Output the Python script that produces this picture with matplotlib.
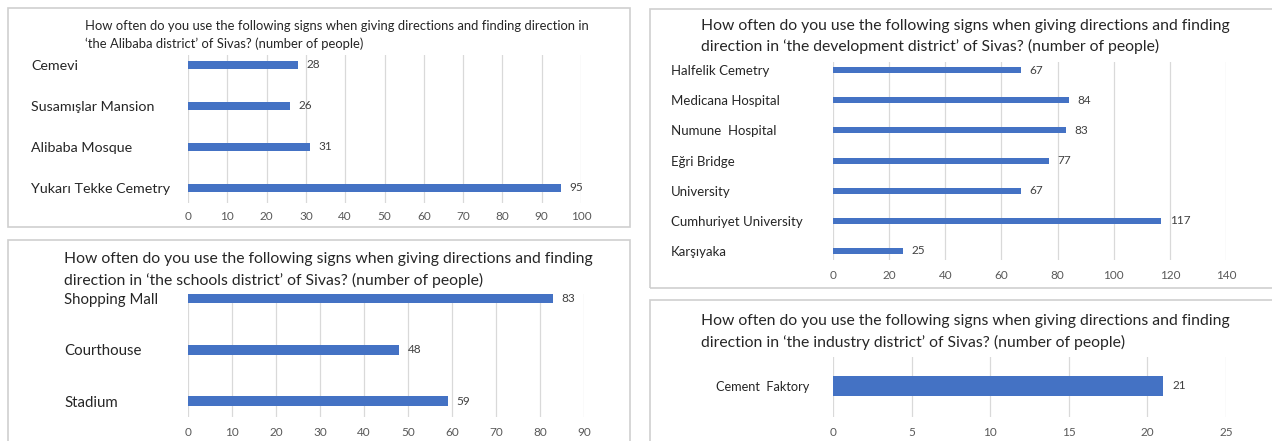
import matplotlib.pyplot as plt
from matplotlib.patches import Rectangle

plt.rcParams['font.family'] = ['Lato', 'DejaVu Sans']

W, H = 1272, 441

alibaba_places = ['Cemevi', 'Susamışlar Mansion', 'Alibaba Mosque', 'Yukarı Tekke Cemetry']
alibaba_counts = [28, 26, 31, 95]
alibaba_ticks = [0, 10, 20, 30, 40, 50, 60, 70, 80, 90, 100]
alibaba_title = ['How often do you use the following signs when giving directions and finding direction in',
                 '‘the Alibaba district’ of Sivas? (number of people)']

schools_places = ['Shopping Mall', 'Courthouse', 'Stadium']
schools_counts = [83, 48, 59]
schools_ticks = [0, 10, 20, 30, 40, 50, 60, 70, 80, 90]
schools_title = ['How often do you use the following signs when giving directions and finding',
                 'direction in ‘the schools district’ of Sivas? (number of people)']

development_places = ['Halfelik Cemetry', 'Medicana Hospital', 'Numune  Hospital', 'Eğri Bridge',
                      'University', 'Cumhuriyet University', 'Karşıyaka']
development_counts = [67, 84, 83, 77, 67, 117, 25]
development_ticks = [0, 20, 40, 60, 80, 100, 120, 140]
development_title = ['How often do you use the following signs when giving directions and finding',
                     'direction in ‘the development district’ of Sivas? (number of people)']

industry_places = ['Cement  Faktory']
industry_counts = [21]
industry_ticks = [0, 5, 10, 15, 20, 25]
industry_title = ['How often do you use the following signs when giving directions and finding',
                  'direction in ‘the industry district’ of Sivas? (number of people)']

BLUE = '#4472C4'

fig = plt.figure(figsize=(W / 100, H / 100), dpi=100)


def box(x0, y0, x1, y1):
    fig.patches.append(Rectangle((x0 / W, 1 - y1 / H), (x1 - x0) / W, (y1 - y0) / H,
                                 transform=fig.transFigure, fill=False, ec='#CFCFCF', lw=1.2))


def title(x, ys, lines, size):
    for y, line in zip(ys, lines):
        fig.text(x / W, 1 - y / H, line, ha='left', va='center', fontsize=size, color='#262626')


def panel(rect, places, counts, ticks, ylim, bar_h, label_pad, label_size, xpad, ha='left', val_off=6):
    x0, y0, x1, y1 = rect
    ax = fig.add_axes([x0 / W, 1 - y1 / H, (x1 - x0) / W, (y1 - y0) / H])
    pos = list(range(len(places)))
    ax.barh(pos, counts, height=bar_h, color=BLUE, zorder=3)
    for p, c in zip(pos, counts):
        ax.annotate(str(c), (c, p), xytext=(val_off, 0), textcoords='offset points',
                    va='center', ha='left', fontsize=8.5, color='#404040')
    ax.set_xlim(ticks[0], ticks[-1])
    ax.set_xticks(ticks)
    ax.set_ylim(ylim)
    ax.set_yticks(pos)
    ax.set_yticklabels(places, ha=ha, fontsize=label_size, color='#262626')
    ax.tick_params(axis='y', length=0, pad=label_pad)
    ax.tick_params(axis='x', length=0, pad=xpad, labelsize=8.5, labelcolor='#595959')
    ax.grid(axis='x', color='#D9D9D9', lw=0.9, zorder=0)
    ax.set_axisbelow(True)
    for s in ax.spines.values():
        s.set_visible(False)
    ax.patch.set_alpha(0)
    return ax


# top left - Alibaba
box(8, 8, 630, 227)
title(85, [26, 44], alibaba_title, 9.4)
panel((188, 55, 581, 203), alibaba_places, alibaba_counts, alibaba_ticks,
      (3.365, -0.236), 0.195, 113, 10.3, 6)

# bottom left - schools
box(8, 240, 630, 450)
title(64, [259, 280], schools_title, 11.3)
panel((188, 294, 584, 417), schools_places, schools_counts, schools_ticks,
      (2.31, -0.09), 0.185, 89, 10.8, 7.5)

# top right - development
box(650, 9, 1280, 288)
title(701, [26, 46], development_title, 11.3)
panel((833, 62, 1226, 260), development_places, development_counts, development_ticks,
      (6.3, -0.27), 0.2, 116.5, 9.5, 7.5)

# bottom right - industry
box(650, 300, 1280, 450)
title(701, [321, 342], industry_title, 11.3)
panel((833, 357, 1226, 417), industry_places, industry_counts, industry_ticks,
      (0.52, -0.48), 0.33, 17, 9.2, 7.5, ha='right', val_off=7)

fig.savefig('out.png', dpi=100)
